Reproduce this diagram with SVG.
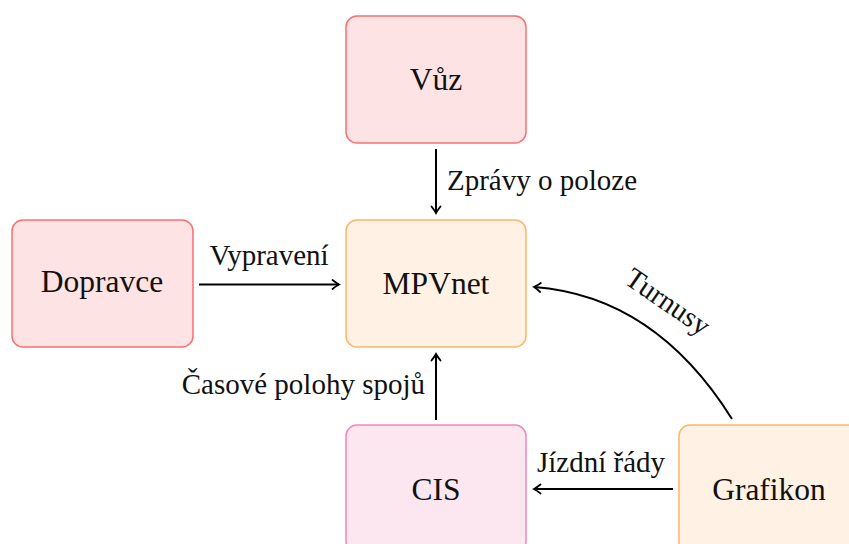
<svg xmlns="http://www.w3.org/2000/svg" width="849" height="544" viewBox="0 0 849 544">
<style>
text{font-family:"Liberation Serif","DejaVu Serif",serif;fill:#111}
.nl{font-size:31.5px;text-anchor:middle}
.el{font-size:29px}
.red{fill:#fee3e4;stroke:#f87171;stroke-width:1.5}
.org{fill:#fff1e3;stroke:#fdb56a;stroke-width:1.5}
.pnk{fill:#fce7f1;stroke:#f484b8;stroke-width:1.5}
.con{fill:none;stroke:#000;stroke-width:2;marker-end:url(#ah)}
</style>
<defs>
<marker id="ah" markerUnits="userSpaceOnUse" markerWidth="14" markerHeight="14" viewBox="-8 -7 10 14" refX="0" refY="0" orient="auto">
<path d="M-6.5,-4.5 Q-2,-1 0,0 Q-2,1 -6.5,4.5" fill="none" stroke="#000" stroke-width="1.8" stroke-linecap="round"/>
</marker>
</defs>
<rect width="849" height="544" fill="#fff"/>
<g id="vuz"><rect class="red" x="346" y="16" width="180" height="127" rx="11"/><text class="nl" x="436" y="90">Vůz</text></g>
<g id="dopravce"><rect class="red" x="12" y="220" width="181" height="127" rx="11"/><text class="nl" x="102" y="292">Dopravce</text></g>
<g id="mpvnet"><rect class="org" x="346" y="220" width="180" height="127" rx="11"/><text class="nl" x="436" y="294">MPVnet</text></g>
<g id="cis"><rect class="pnk" x="346" y="425" width="180" height="127" rx="11"/><text class="nl" x="436" y="500">CIS</text></g>
<g id="grafikon"><rect class="org" x="679" y="425" width="180" height="127" rx="11"/><text class="nl" x="769" y="500">Grafikon</text></g>
<g id="connectors">
<path class="con" d="M436,149 L436,213"/>
<path class="con" d="M199,284.5 L339,284.5"/>
<path class="con" d="M436,420 L436,354"/>
<path class="con" d="M673,489 L534,489"/>
<path class="con" d="M732,419 Q655,296 534,287"/>
<text class="el" x="447" y="190">Zprávy o poloze</text>
<text class="el" x="269" y="265" text-anchor="middle">Vypravení</text>
<text class="el" x="425" y="394" text-anchor="end">Časové polohy spojů</text>
<text class="el" x="601" y="472" text-anchor="middle">Jízdní řády</text>
<text class="el" transform="translate(667,303) rotate(34.5)" x="0" y="8" text-anchor="middle">Turnusy</text>
</g>
</svg>
